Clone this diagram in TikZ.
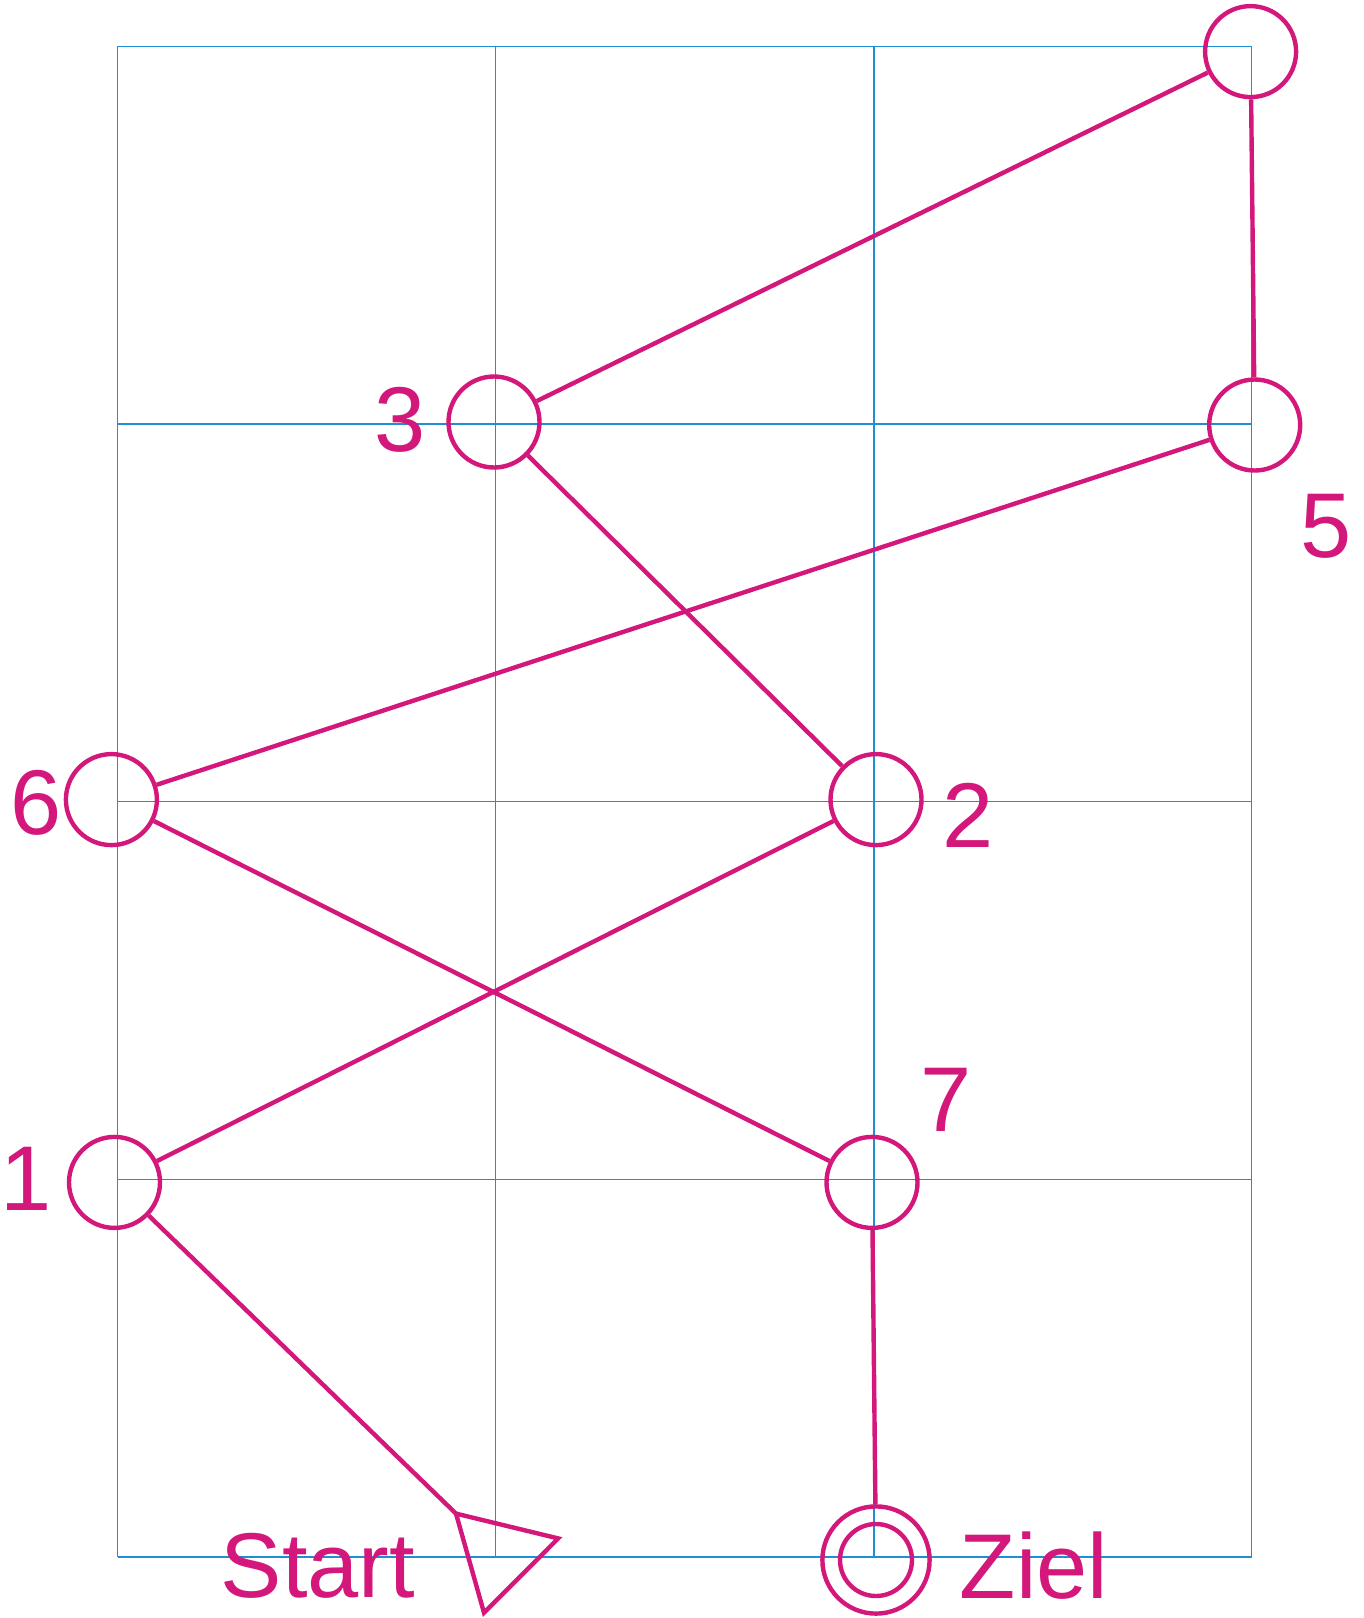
\documentclass[tikz,border=0pt]{standalone}
\usepackage{fontspec}
\setmainfont{Liberation Sans}
\usepackage{xcolor}
\definecolor{cRoute}{HTML}{D4177A}
\definecolor{cGrid}{HTML}{1E8FD2}
\usetikzlibrary{positioning,calc}
\tikzset{
  node-stop/.style={draw=cRoute,line width=2.2pt,circle,minimum size=45.5pt,inner sep=0pt},
  node-goal/.style={node-stop,minimum size=53.6pt},
  node-goal-inner/.style={node-stop,minimum size=36pt},
  node-label/.style={text=cRoute,font=\fontsize{46}{50}\selectfont,inner sep=0pt},
  line-route/.style={draw=cRoute,line width=2.2pt},
  grid-line/.style={draw=cGrid,line width=0.6pt},
}
\begin{document}
\begin{tikzpicture}[x=0.5pt,y=-0.5pt]
  \useasboundingbox (0,0) rectangle (1364,1618);
  % Raster
  \foreach \x in {117.6,495.3,873.9,1251.5}
    \draw[grid-line] (\x,46.4) -- (\x,1557);
  \foreach \y in {46.4,424,801.7,1179.3,1557}
    \draw[grid-line] (117.6,\y) -- (1251.5,\y);
  % Stationen
  \foreach \name/\x/\y in {n1/114.5/1182.4, n2/876/799.6, n3/494/422,
      nT/1250.6/51.6, n5/1254.7/425, n6/111.4/799.6, n7/872/1182.4} {
    \node[node-stop] at (\x,\y) (\name) {};
  }
  \node[node-goal] at (876,1560) (ziel) {};
  \node[node-goal-inner] at (876,1560) (ziel-inner) {};
  % Start
  \draw[line-route] (456,1513.6) coordinate (start-tip) -- (558.2,1538.4)
    -- (484,1612.7) -- cycle;
  % Route
  \draw[line-route] (start-tip) -- (n1);
  \draw[line-route] (n1) -- (n2);
  \draw[line-route] (n2) -- (n3);
  \draw[line-route] (n3) -- (nT);
  \draw[line-route] (nT) -- (n5);
  \draw[line-route] (n5) -- (n6);
  \draw[line-route] (n6) -- (n7);
  \draw[line-route] (n7) -- (ziel);
  % Beschriftung
  \foreach \name/\x/\y/\txt in {lbl1/26/1179/1, lbl2/968/815/2, lbl3/400/420/3,
      lbl5/1326/526/5, lbl6/36/803/6, lbl7/946/1100/7,
      lbl-start/318/1566/Start, lbl-ziel/1034/1566/Ziel} {
    \node[node-label] at (\x,\y) (\name) {\txt};
  }
\end{tikzpicture}
\end{document}
